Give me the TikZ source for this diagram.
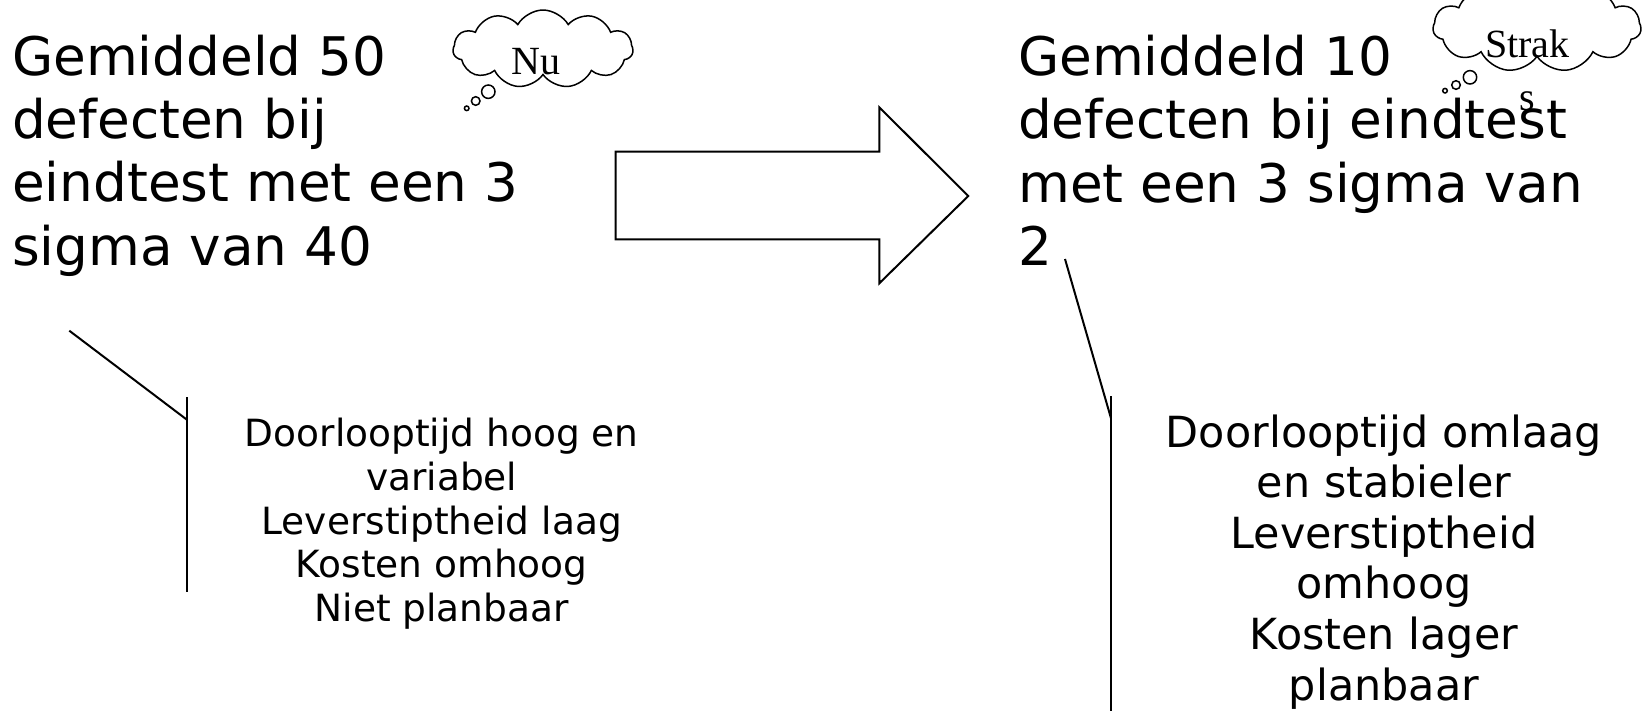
\documentclass[tikz,border=0pt]{standalone}
\usepackage{fontspec}
\setmainfont{DejaVu Sans}
\newfontfamily\cloudfont{Liberation Serif}
\usetikzlibrary{shapes.symbols}
\begin{document}
\begin{tikzpicture}[x=1pt,y=-1pt,
  big/.style={anchor=base west, align=left, inner sep=0pt, font=\fontsize{53.2}{63.3}\selectfont},
  small/.style={anchor=base, align=center, inner sep=0pt},
  line/.style={line width=2pt, line join=miter},
  thought/.style={cloud, draw, cloud puffs=11, cloud puff arc=120, aspect=2.3, inner sep=0pt, line width=1.5pt},
  bubble/.style={draw, circle, inner sep=0pt, line width=1.5pt},
  cloudtext/.style={anchor=base, align=center, inner sep=0pt, font=\cloudfont\fontsize{40}{52.7}\selectfont}]
\useasboundingbox (0,0) rectangle (1647,710);
\clip (0,0) rectangle (1647,710);
% big texts (base anchor = last line baseline)
\node[big] (lt) at (12,265) {Gemiddeld 50\\defecten bij\\eindtest met een 3\\sigma van 40};
\node[big] (rt) at (1018,265.5) {Gemiddeld 10\\defecten bij eindtest\\met een 3 sigma van\\2};
% small texts
\node[small, font=\fontsize{37.5}{43.7}\selectfont] (ls) at (441.7,621.5) {Doorlooptijd hoog en\\variabel\\Leverstiptheid laag\\Kosten omhoog\\Niet planbaar};
\node[small, font=\fontsize{42.9}{50.6}\selectfont] (rs) at (1384,700) {Doorlooptijd omlaag\\en stabieler\\Leverstiptheid\\omhoog\\Kosten lager\\planbaar};
% big arrow
\draw[line] (615.7,151.7) -- (879.3,151.7) -- (879.3,107.3) -- (968.3,196)
  -- (879.3,283.3) -- (879.3,239.3) -- (615.7,239.3) -- cycle;
% callout lines
\coordinate (l1) at (69.3,330.7);
\coordinate (l2) at (187.3,420);
\coordinate (l3) at (187.3,397.3);
\coordinate (l4) at (187.3,591.7);
\draw[line] (l1) -- (l2);
\draw[line] (l3) -- (l4);
\coordinate (r1) at (1065,259);
\coordinate (r2) at (1111,418.3);
\coordinate (r3) at (1111,396);
\coordinate (r4) at (1111,715);
\draw[line] (r1) -- (r2);
\draw[line] (r3) -- (r4);
% thought clouds
\node[thought, minimum width=180pt, minimum height=78pt] (c1) at (543,49) {};
\node[cloudtext] (t1) at (536,74) {Nu};
\node[bubble, minimum size=13.4pt] (b11) at (488.3,91.7) {};
\node[bubble, minimum size=8.6pt] (b12) at (475.7,101) {};
\node[bubble, minimum size=4.6pt] (b13) at (466.7,108.3) {};
\node[thought, minimum width=208pt, minimum height=90pt] (c2) at (1537,27) {};
\node[cloudtext] (t2) at (1527.5,110) {Strak\\s};
\node[bubble, minimum size=13.4pt] (b21) at (1470,77.3) {};
\node[bubble, minimum size=8.6pt] (b22) at (1456,85) {};
\node[bubble, minimum size=4.6pt] (b23) at (1445,90.7) {};
\end{tikzpicture}
\end{document}
